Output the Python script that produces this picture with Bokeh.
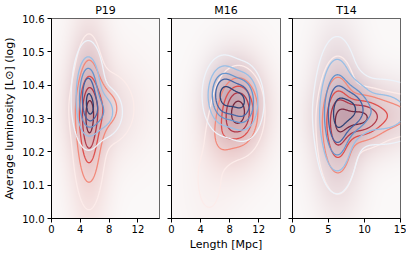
import numpy as np
from bokeh.plotting import figure
from bokeh.layouts import row
from bokeh.models import FixedTicker, PrintfTickFormatter, Range1d
from bokeh.embed import file_html
from bokeh.resources import INLINE

TITLES = ["P19", "M16", "T14"]
X_TICKS = [[0, 4, 8, 12], [0, 4, 8, 12], [0, 5, 10, 15]]
Y_TICKS = [10.0, 10.1, 10.2, 10.3, 10.4, 10.5, 10.6]
X_LABEL = "Length [Mpc]"
Y_LABEL = "Average luminosity [L\u2299] (log)"
LEVEL_FRACTIONS = [0.05, 0.2, 0.4, 0.6, 0.85]

# Gaussian components: (x, y, sx, sy, weight)
P19_RED = [(5.2, 10.29, 1.05, 0.115, 1.0), (7.2, 10.33, 2.3, 0.06, 0.4),
           (5.3, 10.30, 0.45, 0.05, 0.2)]
P19_BLUE = [(5.1, 10.37, 1.0, 0.07, 1.0), (6.9, 10.32, 1.5, 0.04, 0.45),
            (5.4, 10.33, 0.35, 0.02, 0.2)]
M16_RED = [(9.2, 10.32, 1.5, 0.057, 1.0), (7.0, 10.25, 1.1, 0.045, 0.2),
           (5.2, 10.12, 1.6, 0.09, 0.08)]
M16_BLUE = [(7.2, 10.37, 1.25, 0.05, 1.0), (9.8, 10.35, 1.25, 0.05, 0.9)]
T14_RED = [(6.3, 10.28, 1.3, 0.09, 0.8), (9.3, 10.30, 1.9, 0.04, 0.85),
           (13.0, 10.31, 3.0, 0.035, 0.35)]
T14_BLUE = [(6.2, 10.31, 1.4, 0.10, 1.0), (8.6, 10.33, 1.2, 0.045, 0.6),
            (12.0, 10.32, 3.5, 0.05, 0.42)]

SERIES = [(P19_RED, P19_BLUE), (M16_RED, M16_BLUE), (T14_RED, T14_BLUE)]

RED_COLORS = ["#fcecea", "#f2897a", "#de4f4c", "#b03848", "#76283f"]
BLUE_COLORS = ["#edf3fa", "#98bfe6", "#6594cc", "#4565a5", "#2d4275"]

XS = np.linspace(0, 15, 301)
YS = np.linspace(10.0, 10.6, 241)
GX, GY = np.meshgrid(XS, YS)
FONT = "DejaVu Sans"


def density(comps, scale=1.0):
    z = np.zeros_like(GX)
    for cx, cy, sx, sy, w in comps:
        z += w * np.exp(-0.5 * (((GX - cx) / (sx * scale)) ** 2 +
                                ((GY - cy) / (sy * scale)) ** 2))
    return z


def haze(red, blue):
    hr = density(red, 1.7)
    hb = density(blue, 1.5)
    hr = hr / hr.max()
    hb = hb / hb.max()
    ar = (0.5 * hr ** 0.8)[..., None]
    ab = (0.28 * hb ** 0.9)[..., None]
    base = np.array([251, 249, 249.0]) * np.ones(GX.shape + (3,))
    rc = np.array([220, 125, 120.0])
    bc = np.array([95, 95, 145.0])
    c = base * (1 - ar) + rc * ar
    c = c * (1 - ab) + bc * ab
    img = np.empty(GX.shape, dtype=np.uint32)
    v = img.view(dtype=np.uint8).reshape(GX.shape + (4,))
    v[..., 0] = c[..., 0].astype(np.uint8)
    v[..., 1] = c[..., 1].astype(np.uint8)
    v[..., 2] = c[..., 2].astype(np.uint8)
    v[..., 3] = 255
    return img


figs = []
for i, (title, (red, blue)) in enumerate(zip(TITLES, SERIES)):
    first = i == 0
    p = figure(frame_width=109 if i == 1 else 108, frame_height=200,
               x_range=Range1d(0, 15), y_range=Range1d(10.0, 10.6),
               output_backend="svg", toolbar_location=None,
               min_border_left=44 if first else 6, min_border_right=6,
               min_border_top=14, min_border_bottom=36,
               background_fill_color="white", border_fill_color="white")
    p.title.text = title
    p.title.align = "center"
    p.title.text_font = FONT
    p.title.text_font_size = "11px"
    p.title.text_font_style = "normal"
    p.title.text_color = "black"
    p.title.standoff = 3
    p.grid.visible = False
    p.outline_line_color = "#333333"
    p.outline_line_width = 1

    p.image_rgba(image=[haze(red, blue)], x=0, y=10.0, dw=15, dh=0.6)
    zr = density(red)
    zb = density(blue)
    p.contour(x=XS, y=YS, z=zr, levels=[f * zr.max() for f in LEVEL_FRACTIONS],
              line_color=RED_COLORS, line_width=1.3)
    p.contour(x=XS, y=YS, z=zb, levels=[f * zb.max() for f in LEVEL_FRACTIONS],
              line_color=BLUE_COLORS, line_width=1.3)

    for ax in (p.xaxis[0], p.yaxis[0]):
        ax.major_tick_out = 4
        ax.major_tick_in = 0
        ax.minor_tick_line_color = None
        ax.axis_line_color = "black"
        ax.major_tick_line_color = "black"
        ax.major_label_text_font = FONT
        ax.major_label_text_font_size = "10px"
        ax.major_label_text_color = "black"
        ax.axis_label_text_font = FONT
        ax.axis_label_text_font_size = "11px"
        ax.axis_label_text_font_style = "normal"
        ax.axis_label_text_color = "black"
    p.xaxis.ticker = FixedTicker(ticks=X_TICKS[i])
    p.xaxis.major_label_standoff = 2
    p.yaxis.ticker = FixedTicker(ticks=Y_TICKS)
    p.yaxis.formatter = PrintfTickFormatter(format="%.1f")
    if first:
        p.yaxis.axis_label = Y_LABEL
        p.yaxis.major_label_standoff = 3
        p.yaxis.axis_label_standoff = 3
    else:
        p.yaxis.major_label_overrides = {t: "" for t in Y_TICKS}
        p.yaxis.major_label_standoff = 0
    if i == 1:
        p.xaxis.axis_label = X_LABEL
        p.xaxis.axis_label_standoff = 2
    figs.append(p)

layout = row(*figs)
open("out.html", "w").write(file_html(layout, INLINE))
